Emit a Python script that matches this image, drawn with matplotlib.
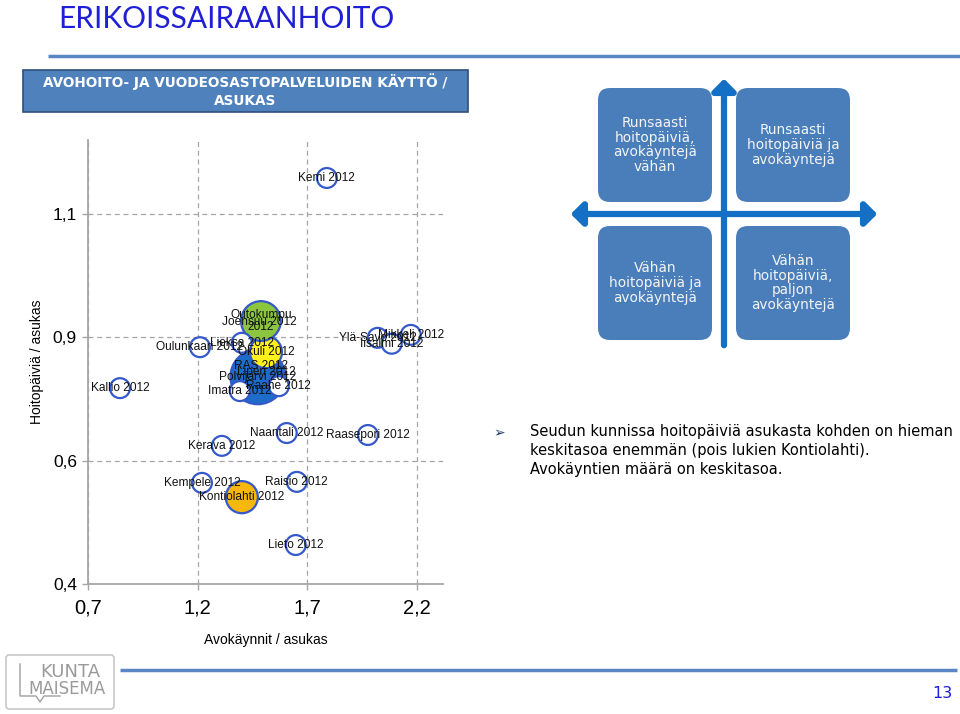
import matplotlib
matplotlib.use("Agg")
import matplotlib.pyplot as plt
from matplotlib import font_manager
from matplotlib.patches import FancyBboxPatch, Rectangle, FancyArrowPatch

# ---------------- data ----------------
names = ["Liperi 2012", "RAS 2012", "Joensuu 2012", "Polvijärvi 2012", "Okuli 2012",
         "Imatra 2012", "Raahe 2012", "Outokumpu\n2012", "Lieksa 2012", "Oulunkaari 2012",
         "Kallio 2012", "Kemi 2012", "Ylä-Savo 2012", "Iisalmi 2012", "Mikkeli 2012",
         "Naantali 2012", "Raasepori 2012", "Kerava 2012", "Kempele 2012",
         "Kontiolahti 2012", "Raisio 2012", "Lieto 2012"]
avokaynnit = [1.516, 1.489, 1.480, 1.475, 1.512,
              1.393, 1.571, 1.489, 1.402, 1.211,
              0.846, 1.790, 2.022, 2.086, 2.173,
              1.607, 1.977, 1.311, 1.220,
              1.402, 1.653, 1.648]
hoitopaivat = [0.830, 0.842, 0.931, 0.820, 0.870,
               0.791, 0.801, 0.933, 0.889, 0.880,
               0.797, 1.223, 0.899, 0.887, 0.905,
               0.706, 0.702, 0.680, 0.605,
               0.576, 0.607, 0.479]
bubble_size = [1.0, 1.0, 1.0, 7.6, 2.6,
               1.0, 1.0, 4.0, 1.0, 1.0,
               1.0, 1.0, 1.0, 1.0, 1.0,
               1.0, 1.0, 1.0, 1.0,
               2.6, 1.0, 1.0]
x_ticks = [0.7, 1.2, 1.7, 2.2]
x_tick_labels = ["0,7", "1,2", "1,7", "2,2"]
y_ticks = [0.4, 0.65, 0.9, 1.15]
y_tick_labels = ["0,4", "0,6", "0,9", "1,1"]

# styles
highlight = {"Polvijärvi 2012": "#1E6CC9", "Okuli 2012": "#FFF21C",
             "Outokumpu\n2012": "#8CC63F", "Kontiolahti 2012": "#F8B70C"}
face_colors = [highlight.get(n, "white") for n in names]

W, H = 960, 714
fig = plt.figure(figsize=(W / 100, H / 100), dpi=100)
fig.patch.set_facecolor("white")

avail = {f.name for f in font_manager.fontManager.ttflist}
narrow = "Liberation Sans Narrow" if "Liberation Sans Narrow" in avail else "Liberation Sans"
title_font = "Lato" if "Lato" in avail else "DejaVu Sans"

# background overlay in pixel coordinates
bg = fig.add_axes([0, 0, 1, 1])
bg.set_xlim(0, W)
bg.set_ylim(H, 0)
bg.axis("off")

# title
bg.text(58, 28, "ERIKOISSAIRAANHOITO", color="#1F1FD6", fontsize=21.5,
        family=title_font, ha="left", va="baseline")
bg.plot([48, 960], [56, 56], color="#5B86C5", lw=2.5, solid_capstyle="butt")

# subtitle box
bg.add_patch(Rectangle((23, 70), 445, 42, facecolor="#4F81BD", edgecolor="#2F4F7A", lw=1.2))
bg.text(245, 91, "AVOHOITO- JA VUODEOSASTOPALVELUIDEN KÄYTTÖ /\nASUKAS", color="white",
        fontsize=9.8, fontweight="bold", family="DejaVu Sans", ha="center", va="center",
        linespacing=1.35)

# quadrant diagram
quad_boxes = [
    (598, 88, "Runsaasti\nhoitopäiviä,\navokäyntejä\nvähän"),
    (736, 88, "Runsaasti\nhoitopäiviä ja\navokäyntejä"),
    (598, 226, "Vähän\nhoitopäiviä ja\navokäyntejä"),
    (736, 226, "Vähän\nhoitopäiviä,\npaljon\navokäyntejä"),
]
for bx, by, txt in quad_boxes:
    bg.add_patch(FancyBboxPatch((bx + 12, by + 12), 114 - 24, 114 - 24,
                                boxstyle="round,pad=12", facecolor="#4A7EBB",
                                edgecolor="none"))
    bg.text(bx + 57, by + 57, txt, color="#F4F4F4", fontsize=9.8, family="DejaVu Sans",
            ha="center", va="center", linespacing=1.05)
arrow_col = "#1470C4"
for start, end in [((724, 348), (724, 76)), ((724, 214), (568, 214)), ((724, 214), (880, 214))]:
    bg.add_patch(FancyArrowPatch(start, end, arrowstyle="-|>,head_length=7,head_width=7",
                                 color=arrow_col, lw=4.5, mutation_scale=1, zorder=1))

# bullet text
bg.text(493, 433, "➢", color="#1F3A6E", fontsize=10, family="DejaVu Sans", ha="left", va="center")
bg.text(530, 424, "Seudun kunnissa hoitopäiviä asukasta kohden on hieman\n"
                  "keskitasoa enemmän (pois lukien Kontiolahti).\n"
                  "Avokäyntien määrä on keskitasoa.",
        color="black", fontsize=10.5, family="DejaVu Sans", ha="left", va="top", linespacing=1.32)

# footer
bg.plot([120, 957], [670, 670], color="#5B86C5", lw=2.5, solid_capstyle="butt")
bg.add_patch(FancyBboxPatch((9, 658), 102, 48, boxstyle="round,pad=3", facecolor="white",
                            edgecolor="#C8C8C8", lw=1.2))
bg.plot([20, 20, 36, 40, 44, 60], [664, 696, 696, 702, 696, 696], color="#A0A0A0", lw=1)
bg.text(40, 672, "KUNTA", color="#9A9A9A", fontsize=13, family="DejaVu Sans",
        ha="left", va="center")
bg.text(28, 689, "MAISEMA", color="#9A9A9A", fontsize=12, family="DejaVu Sans",
        ha="left", va="center")
bg.text(942, 693, "13", color="#1F1FD6", fontsize=11.5, family="DejaVu Sans", ha="center",
        va="center")

# ---------------- chart ----------------
x0, x1 = 0.7, 2.32
y0, y1 = 0.4, 1.3
left_px, right_px, top_px, bottom_px = 88, 443, 140, 584
ax = fig.add_axes([left_px / W, 1 - bottom_px / H, (right_px - left_px) / W,
                   (bottom_px - top_px) / H])
ax.patch.set_alpha(0)
ax.set_xlim(x0, x1)
ax.set_ylim(y0, y1)

base = 205.0
ax.scatter(avokaynnit, hoitopaivat, s=[b * base for b in bubble_size], c=face_colors,
           edgecolors="#3559C9", linewidths=1.6, zorder=3)
for n, xv, yv in zip(names, avokaynnit, hoitopaivat):
    ax.text(xv, yv, n, ha="center", va="center", fontsize=8.6, family=narrow,
            color="#111111", zorder=5, linespacing=0.95)

for side in ["top", "right"]:
    ax.spines[side].set_visible(False)
for side in ["left", "bottom"]:
    ax.spines[side].set_color("#A6A6A6")
    ax.spines[side].set_linewidth(1.3)

ax.set_xticks(x_ticks)
ax.set_xticklabels(x_tick_labels, fontsize=14.5, family=narrow)
ax.set_yticks(y_ticks)
ax.set_yticklabels(y_tick_labels, fontsize=12.5, family=narrow)
ax.tick_params(axis="both", color="#A6A6A6", length=4.5, width=1.0)
ax.tick_params(axis="x", pad=6)
ax.grid(True, color="#A6A6A6", linestyle=(0, (4, 3)), linewidth=0.9)
ax.set_axisbelow(True)
ax.set_xlabel("Avokäynnit / asukas", fontsize=10, family=narrow, labelpad=11)
ax.set_ylabel("Hoitopäiviä / asukas", fontsize=10, family=narrow, labelpad=6)

fig.savefig("out.png", dpi=100, facecolor="white")
